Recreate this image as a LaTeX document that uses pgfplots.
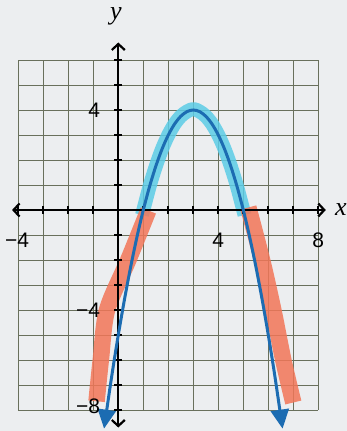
\documentclass[border=0pt]{standalone}
\usepackage{pgfplots}
\pgfplotsset{compat=1.18}
\usepackage{fontspec}
\setmainfont{Liberation Sans}
\newfontfamily\varfont{Liberation Serif}
\usetikzlibrary{arrows.meta,backgrounds}
\definecolor{paper}{RGB}{236,238,240}
\definecolor{gridc}{RGB}{105,112,92}
\definecolor{curveblue}{RGB}{28,108,178}
\definecolor{hicyan}{RGB}{92,204,230}
\definecolor{hiorange}{RGB}{242,118,88}

\begin{document}
\begin{tikzpicture}
\begin{axis}[
  x=25pt, y=25pt,
  xmin=-4, xmax=8, ymin=-8, ymax=6,
  axis line style={draw=none},
  xtick={-4,...,8}, ytick={-8,...,6},
  xticklabels={}, yticklabels={},
  major tick length=0pt,
  grid=major,
  major grid style={draw=gridc, line width=0.8pt},
  clip=false,
]
% highlighted part where the function is positive
\addplot[hicyan, line width=14pt, opacity=0.85, smooth, line join=round] coordinates {
  (0.95,-0.2) (1.25,0.94) (1.5,1.75) (1.75,2.44) (2,3.0) (2.25,3.44)
  (2.5,3.75) (2.75,3.94) (3,4.04) (3.25,3.94) (3.5,3.75) (3.75,3.44)
  (4,3.0) (4.25,2.44) (4.5,1.75) (4.75,0.94) (5.05,-0.2)
};
% highlighted parts where the function is negative
\addplot[hiorange, line width=16.5pt, opacity=0.85, smooth, line join=round] coordinates {
  (1.2,-0.02) (0.4,-2) (-0.45,-4) (-0.7,-6) (-0.87,-7.65)
};
\addplot[hiorange, line width=16.5pt, opacity=0.85, smooth, line join=round] coordinates {
  (5.2,0.1) (5.75,-2) (6.2,-4) (6.6,-6) (7.0,-7.7)
};
% coordinate axes with tick marks
\draw[line width=2.2pt, {Straight Barb[length=6pt,width=13pt]}-{Straight Barb[length=6pt,width=13pt]}]
  (axis cs:-4.25,0) -- (axis cs:8.3,0);
\draw[line width=2.2pt, {Straight Barb[length=6pt,width=13pt]}-{Straight Barb[length=6pt,width=13pt]}]
  (axis cs:0,-8.7) -- (axis cs:0,6.7);
\pgfplotsinvokeforeach{-4,-3,-2,-1,1,2,3,4,5,6,7,8}{
  \draw[line width=2pt] (axis cs:#1,-0.16) -- (axis cs:#1,0.16);
}
\pgfplotsinvokeforeach{-8,-7,-6,-5,-4,-3,-2,-1,1,2,3,4,5,6}{
  \draw[line width=2pt] (axis cs:-0.16,#1) -- (axis cs:0.16,#1);
}
% y = -x^2 + 6x - 5
\addplot[curveblue, line width=3pt, smooth,
  {Triangle[length=19pt,width=18pt]}-{Triangle[length=19pt,width=18pt]}] coordinates {
  (-0.57,-8.745) (-0.25,-6.5625) (0,-5) (0.25,-3.5625) (0.5,-2.25) (0.75,-1.0625)
  (1,0) (1.25,0.9375) (1.5,1.75) (1.75,2.4375) (2,3) (2.25,3.4375) (2.5,3.75)
  (2.75,3.9375) (3,4) (3.25,3.9375) (3.5,3.75) (3.75,3.4375) (4,3) (4.25,2.4375)
  (4.5,1.75) (4.75,0.9375) (5,0) (5.25,-1.0625) (5.5,-2.25) (5.75,-3.5625)
  (6,-5) (6.25,-6.5625) (6.57,-8.745)
};
% tick labels and axis names
\node[font=\fontsize{21}{21}\selectfont] at (axis cs:-4.05,-1.2) {−4};
\node[font=\fontsize{21}{21}\selectfont] at (axis cs:4,-1.2) {4};
\node[font=\fontsize{21}{21}\selectfont] at (axis cs:8,-1.2) {8};
\node[font=\fontsize{21}{21}\selectfont, anchor=east, inner sep=0pt] at (axis cs:-0.72,4) {4};
\node[font=\fontsize{21}{21}\selectfont, anchor=east, inner sep=0pt] at (axis cs:-0.72,-4) {−4};
\node[font=\fontsize{21}{21}\selectfont, anchor=east, inner sep=0pt] at (axis cs:-0.72,-7.85) {−8};
\node[font=\fontsize{26}{26}\selectfont\varfont\itshape, inner sep=0pt] at (axis cs:-0.1,7.75) {y};
\node[font=\fontsize{26}{26}\selectfont\varfont\itshape, inner sep=0pt] at (axis cs:8.9,0.0) {x};
\coordinate (bl) at (axis cs:-4.732,-8.84);
\coordinate (tr) at (axis cs:9.148,8.4);
\end{axis}
\begin{scope}[on background layer]
  \fill[paper] (bl) rectangle (tr);
\end{scope}
\end{tikzpicture}
\end{document}
